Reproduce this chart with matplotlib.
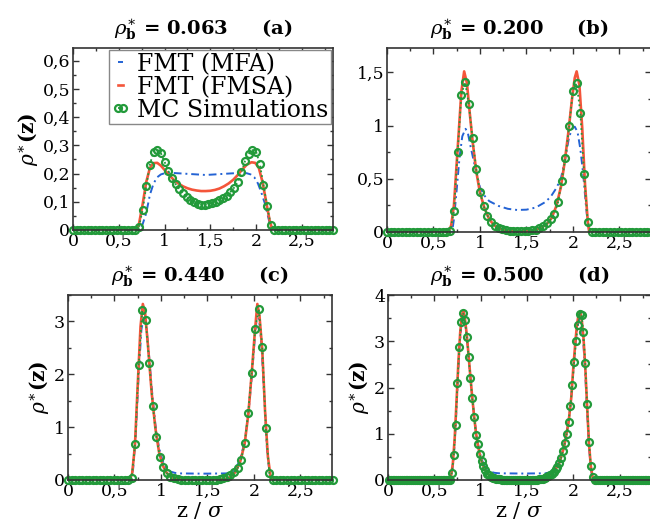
import numpy as np
import matplotlib
matplotlib.use('Agg')
import matplotlib.pyplot as plt
from matplotlib.ticker import MultipleLocator, FuncFormatter

plt.rcParams['font.family'] = 'DejaVu Serif'
plt.rcParams['mathtext.fontset'] = 'dejavuserif'

# ---------------- dados ----------------
titulos = ['0.063', '0.200', '0.440', '0.500']
letras = ['(a)', '(b)', '(c)', '(d)']
legendas = ['FMT (MFA)', 'FMT (FMSA)', 'MC Simulations']

# (a) rho_b* = 0.063
z_mfa_a = [0.0, 0.72, 0.76, 0.80, 0.84, 0.88, 0.92, 0.96, 1.00, 1.05, 1.20, 1.45, 1.70,
           1.85, 1.90, 1.94, 1.98, 2.02, 2.06, 2.10, 2.14, 2.17, 2.84]
rho_mfa_a = [0.0, 0.0, 0.02, 0.06, 0.125, 0.165, 0.187, 0.197, 0.201, 0.203, 0.2, 0.195, 0.2,
             0.203, 0.201, 0.197, 0.187, 0.165, 0.13, 0.09, 0.035, 0.0, 0.0]
z_fmsa_a = [0.0, 0.69, 0.72, 0.76, 0.80, 0.84, 0.88, 0.92, 0.96, 1.00, 1.05, 1.10, 1.15, 1.20,
            1.25, 1.30, 1.35, 1.40, 1.45, 1.50, 1.55, 1.60, 1.65, 1.70, 1.75, 1.80, 1.85,
            1.90, 1.95, 1.99, 2.03, 2.07, 2.11, 2.15, 2.18, 2.84]
rho_fmsa_a = [0.0, 0.0, 0.02, 0.09, 0.17, 0.22, 0.237, 0.238, 0.228, 0.213, 0.195, 0.178,
              0.165, 0.155, 0.148, 0.143, 0.14, 0.138, 0.138, 0.139, 0.142, 0.147, 0.155,
              0.165, 0.178, 0.195, 0.215, 0.232, 0.24, 0.238, 0.22, 0.17, 0.1, 0.03, 0.0, 0.0]
z_mc_a = np.round(np.arange(0.0, 2.85, 0.04), 3)
rho_mc_a = [0.0] * 18 + [
    0.012, 0.07, 0.155, 0.232, 0.278, 0.285, 0.272, 0.242, 0.21, 0.184,
    0.163, 0.145, 0.13, 0.117, 0.106, 0.098, 0.093, 0.09, 0.09, 0.092,
    0.095, 0.1, 0.105, 0.112, 0.122, 0.135, 0.15, 0.17, 0.205, 0.245,
    0.27, 0.283, 0.278, 0.235, 0.16, 0.085, 0.018] + [0.0] * 17

# (b) rho_b* = 0.200
z_mfa_b = [0.0, 0.70, 0.72, 0.75, 0.78, 0.81, 0.845, 0.87, 0.90, 0.95, 1.00, 1.05, 1.10,
           1.20, 1.30, 1.40, 1.50, 1.60, 1.70, 1.76, 1.82, 1.87, 1.92, 1.96, 2.00, 2.02,
           2.05, 2.08, 2.11, 2.14, 2.16, 2.18, 2.84]
rho_mfa_b = [0.0, 0.0, 0.12, 0.4, 0.7, 0.9, 0.97, 0.93, 0.8, 0.6, 0.42, 0.34, 0.29,
             0.245, 0.218, 0.207, 0.21, 0.23, 0.28, 0.33, 0.41, 0.5, 0.7, 0.9, 0.98, 0.99,
             0.94, 0.78, 0.55, 0.25, 0.08, 0.0, 0.0]
z_fmsa_b = [0.0, 0.66, 0.69, 0.72, 0.75, 0.78, 0.80, 0.83, 0.86, 0.89, 0.92, 0.96, 1.00,
            1.05, 1.10, 1.15, 1.20, 1.30, 1.43, 1.55, 1.65, 1.72, 1.77, 1.82, 1.87, 1.91,
            1.95, 1.99, 2.02, 2.04, 2.07, 2.10, 2.13, 2.16, 2.175, 2.84]
rho_fmsa_b = [0.0, 0.0, 0.06, 0.25, 0.65, 1.05, 1.32, 1.51, 1.4, 1.12, 0.86, 0.57, 0.37,
              0.22, 0.12, 0.065, 0.035, 0.012, 0.006, 0.012, 0.035, 0.075, 0.13, 0.24,
              0.42, 0.65, 0.93, 1.25, 1.45, 1.51, 1.38, 0.98, 0.45, 0.1, 0.0, 0.0]
z_mc_b = np.round(np.arange(0.0, 2.85, 0.04), 3)
rho_mc_b = [0.0] * 17 + [
    0.005, 0.2, 0.75, 1.29, 1.41, 1.2, 0.88, 0.59, 0.38, 0.245,
    0.155, 0.097, 0.06, 0.04, 0.027, 0.018, 0.012, 0.01, 0.01, 0.01,
    0.01, 0.012, 0.016, 0.022, 0.035, 0.06, 0.08, 0.12, 0.17, 0.28,
    0.48, 0.7, 1.0, 1.33, 1.4, 1.12, 0.55, 0.09] + [0.0] * 17

# (c) rho_b* = 0.440
z_mfa_c = [0.0, 0.67, 0.70, 0.73, 0.76, 0.79, 0.815, 0.84, 0.87, 0.90, 0.94, 0.98, 1.02,
           1.06, 1.10, 1.15, 1.20, 1.45, 1.70, 1.75, 1.80, 1.85, 1.90, 1.94, 1.98, 2.01,
           2.03, 2.055, 2.08, 2.11, 2.14, 2.17, 2.19, 2.84]
rho_mfa_c = [0.0, 0.0, 0.2, 0.9, 2.0, 2.85, 3.1, 2.95, 2.4, 1.75, 1.05, 0.6, 0.35,
             0.22, 0.16, 0.135, 0.125, 0.12, 0.125, 0.14, 0.2, 0.38, 0.72, 1.25, 2.0, 2.7,
             3.05, 3.05, 2.6, 1.6, 0.6, 0.1, 0.0, 0.0]
z_fmsa_c = [0.0, 0.66, 0.69, 0.72, 0.75, 0.78, 0.805, 0.83, 0.86, 0.90, 0.94, 0.98, 1.02,
            1.06, 1.10, 1.15, 1.20, 1.30, 1.60, 1.70, 1.75, 1.80, 1.85, 1.90, 1.94, 1.98,
            2.01, 2.037, 2.06, 2.09, 2.12, 2.15, 2.18, 2.20, 2.84]
rho_fmsa_c = [0.0, 0.0, 0.12, 0.65, 1.8, 2.9, 3.33, 3.15, 2.55, 1.65, 0.98, 0.52, 0.27,
              0.14, 0.07, 0.03, 0.012, 0.004, 0.004, 0.02, 0.06, 0.15, 0.33, 0.68, 1.25,
              2.1, 2.8, 3.33, 3.1, 2.45, 1.3, 0.45, 0.05, 0.0, 0.0]
z_mc_c = np.round(np.arange(0.0, 2.851, 0.038), 3)
rho_mc_c = [0.0] * 18 + [
    0.04, 0.68, 2.17, 3.21, 3.02, 2.21, 1.4, 0.82, 0.44, 0.25,
    0.126, 0.063, 0.03, 0.015, 0.008, 0.005, 0.004, 0.003, 0.003, 0.003,
    0.003, 0.003, 0.004, 0.005, 0.008, 0.015, 0.03, 0.06, 0.1, 0.157,
    0.22, 0.377, 0.7, 1.26, 2.03, 2.86, 3.24, 2.52, 0.99, 0.126] + [0.0] * 18

# (d) rho_b* = 0.500
z_mfa_d = [0.0, 0.67, 0.69, 0.71, 0.73, 0.75, 0.77, 0.79, 0.815, 0.835, 0.85, 0.87, 0.89,
           0.91, 0.93, 0.95, 0.97, 0.99, 1.01, 1.04, 1.07, 1.10, 1.15, 1.20, 1.45, 1.70,
           1.75, 1.80, 1.85, 1.90, 1.95, 1.98, 2.00, 2.02, 2.04, 2.06, 2.075, 2.09, 2.11,
           2.13, 2.15, 2.17, 2.19, 2.21, 2.22, 2.84]
rho_mfa_d = [0.0, 0.0, 0.15, 0.5, 1.15, 2.0, 2.8, 3.3, 3.5, 3.4, 3.1, 2.68, 2.22, 1.8,
             1.4, 1.05, 0.8, 0.6, 0.45, 0.32, 0.23, 0.18, 0.155, 0.145, 0.14, 0.145, 0.165,
             0.23, 0.4, 0.72, 1.25, 1.8, 2.35, 2.85, 3.25, 3.45, 3.5, 3.35, 2.95, 2.3, 1.5,
             0.75, 0.25, 0.03, 0.0, 0.0]
z_fmsa_d = [0.0, 0.66, 0.68, 0.70, 0.72, 0.74, 0.76, 0.78, 0.80, 0.815, 0.83, 0.85, 0.87,
            0.89, 0.91, 0.93, 0.95, 0.97, 0.99, 1.01, 1.04, 1.07, 1.10, 1.15, 1.20, 1.30,
            1.55, 1.65, 1.70, 1.75, 1.80, 1.85, 1.90, 1.95, 1.98, 2.00, 2.02, 2.04, 2.06,
            2.075, 2.09, 2.11, 2.13, 2.15, 2.17, 2.19, 2.21, 2.23, 2.84]
rho_fmsa_d = [0.0, 0.0, 0.08, 0.35, 0.9, 1.7, 2.55, 3.2, 3.58, 3.65, 3.5, 3.15, 2.7, 2.22,
              1.78, 1.38, 1.02, 0.76, 0.56, 0.41, 0.25, 0.15, 0.09, 0.045, 0.02, 0.008,
              0.008, 0.03, 0.06, 0.11, 0.2, 0.37, 0.7, 1.25, 1.8, 2.4, 2.9, 3.35, 3.6, 3.65,
              3.5, 3.1, 2.45, 1.6, 0.8, 0.3, 0.05, 0.0, 0.0]
z_mc_d = np.round(np.arange(0.01, 2.84, 0.02), 3)
rho_mc_d = [0.0] * 34 + [
    0.16, 0.53, 1.2, 2.09, 2.88, 3.42, 3.62, 3.47, 3.1, 2.67,
    2.2, 1.77, 1.37, 0.97, 0.78, 0.56, 0.42, 0.31, 0.22, 0.14,
    0.1, 0.07, 0.05, 0.036, 0.026, 0.018, 0.012, 0.009, 0.007, 0.006] + [0.005] * 15 + [
    0.007, 0.01, 0.015, 0.022, 0.032, 0.045, 0.06, 0.08, 0.11, 0.14,
    0.18, 0.23, 0.29, 0.37, 0.48, 0.63, 0.8, 1.0, 1.25, 1.6,
    2.05, 2.55, 3.0, 3.35, 3.59, 3.56, 3.2, 2.52, 1.64, 0.83,
    0.31, 0.07] + [0.0] * 31

# ---------------- estilo ----------------
AZUL = '#2463d4'
VERMELHO = '#f4553a'
VERDE = '#229a3a'


def virgula(v, pos):
    return ('%g' % v).replace('.', ',')


def painel(ax, n, mfa, fmsa, mc, ymax, ymaj, ylabel=True, xlabel=False):
    ax.plot(mfa[0], mfa[1], color=AZUL, lw=1.4, ls=(0, (4, 2, 1, 2)), label=legendas[0])
    ax.plot(fmsa[0], fmsa[1], color=VERMELHO, lw=1.9, label=legendas[1])
    ax.plot(mc[0], mc[1], color=VERDE, lw=1.3, ls=':', marker='o', ms=5.0,
            mfc='none', mec=VERDE, mew=1.6, label=legendas[2], clip_on=False)
    ax.set_xlim(0, 2.84)
    ax.set_ylim(0, ymax)
    ax.xaxis.set_major_locator(MultipleLocator(0.5))
    ax.xaxis.set_minor_locator(MultipleLocator(0.25))
    ax.yaxis.set_major_locator(MultipleLocator(ymaj))
    ax.yaxis.set_minor_locator(MultipleLocator(ymaj / 2))
    ax.xaxis.set_major_formatter(FuncFormatter(virgula))
    ax.yaxis.set_major_formatter(FuncFormatter(virgula))
    ax.tick_params(which='both', direction='in', top=True, right=True, labelsize=12.5,
                   width=1.0, color='#333333')
    ax.tick_params(which='major', length=4.5, pad=2)
    ax.tick_params(which='minor', length=2.5)
    for s in ax.spines.values():
        s.set_linewidth(1.2)
        s.set_color('#333333')
    ax.set_title(r'$\rho_{\mathbf{b}}^{\ast}$ = ' + titulos[n] + '     ' + letras[n],
                 fontsize=14, fontweight='bold', pad=10)
    if ylabel:
        ax.set_ylabel(r'$\rho^{\ast}$(z)', fontsize=14.5, fontweight='bold', labelpad=2)
    if xlabel:
        ax.set_xlabel(r'z / $\sigma$', fontsize=15, labelpad=0)


fig = plt.figure(figsize=(6.5, 5.22), dpi=100)
ax_a = fig.add_axes([73 / 650, 1 - 230 / 522, 260 / 650, 182 / 522])
ax_b = fig.add_axes([387 / 650, 1 - 232 / 522, 264 / 650, 184 / 522])
ax_c = fig.add_axes([68 / 650, 1 - 480 / 522, 264 / 650, 185 / 522])
ax_d = fig.add_axes([388 / 650, 1 - 480 / 522, 263 / 650, 185 / 522])

painel(ax_a, 0, (z_mfa_a, rho_mfa_a), (z_fmsa_a, rho_fmsa_a), (z_mc_a, rho_mc_a), 0.645, 0.1)
painel(ax_b, 1, (z_mfa_b, rho_mfa_b), (z_fmsa_b, rho_fmsa_b), (z_mc_b, rho_mc_b), 1.73, 0.5,
       ylabel=False)
painel(ax_c, 2, (z_mfa_c, rho_mfa_c), (z_fmsa_c, rho_fmsa_c), (z_mc_c, rho_mc_c), 3.5, 1,
       xlabel=True)
painel(ax_d, 3, (z_mfa_d, rho_mfa_d), (z_fmsa_d, rho_fmsa_d), (z_mc_d, rho_mc_d), 4.0, 1,
       xlabel=True)

leg = ax_a.legend(loc='upper right', fontsize=17, handlelength=0.8, handletextpad=0.3,
                  borderpad=0.1, labelspacing=0.0, borderaxespad=0.1, numpoints=2,
                  fancybox=False, edgecolor='#888888', framealpha=1)
leg.get_frame().set_linewidth(1.0)

fig.savefig('out.png', dpi=100)
